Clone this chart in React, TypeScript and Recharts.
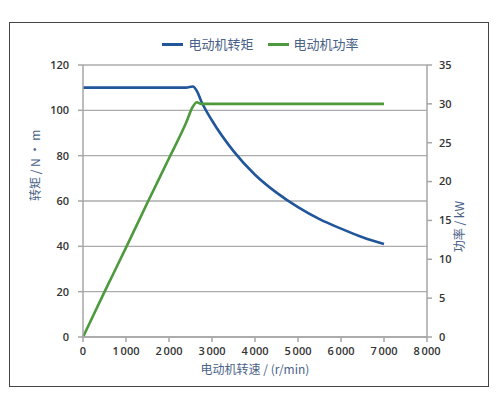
import React from 'react';
import { LineChart, Line, XAxis, YAxis, CartesianGrid } from 'recharts';

// motor speed (r/min) and the two curves
const speeds = [0, 500, 1000, 1500, 2000, 2400, 2550, 2650, 2750, 3000, 3500, 4000, 4500, 5000, 5500, 6000, 6500, 7000];
const torque = [110, 110, 110, 110, 110, 110, 110.5, 108.5, 104, 95.5, 82, 71.6, 63.7, 57.3, 52, 47.8, 44, 41];
const power = [0, 5.8, 11.5, 17.3, 23, 27.6, 29.6, 30.2, 30, 30, 30, 30, 30, 30, 30, 30, 30, 30];

const speedTicks = [0, 1000, 2000, 3000, 4000, 5000, 6000, 7000, 8000];
const torqueTicks = [0, 20, 40, 60, 80, 100, 120];
const powerTicks = [0, 5, 10, 15, 20, 25, 30, 35];

const TORQUE_NAME = '电动机转矩';
const POWER_NAME = '电动机功率';

const data = speeds.map((s, i) => ({ speed: s, torque: torque[i], power: power[i] }));

const BLUE = '#21569b';
const GREEN = '#4c9a3b';
const AXIS = '#a6a6a6';
const LABEL = '#4a6287';
const CJK = '"Noto Sans CJK SC", "Noto Sans", sans-serif';
const tickStyle = { fill: '#333', fontSize: 11, fontFamily: '"Open Sans", sans-serif', fontWeight: 600 };

const fmt = (v: number) => String(v).replace(/\B(?=(\d{3})+(?!\d))/g, '\u2009');

const LegendBox = () => (
  <div
    style={{
      position: 'absolute', left: 11, top: 35, width: 499, display: 'flex', justifyContent: 'center',
      gap: 14, fontFamily: CJK, fontSize: 13, color: LABEL, lineHeight: '18px',
    }}
  >
    {[
      { name: TORQUE_NAME, color: BLUE },
      { name: POWER_NAME, color: GREEN },
    ].map((it) => (
      <div key={it.name} style={{ display: 'flex', alignItems: 'center', gap: 5 }}>
        <span style={{ display: 'inline-block', width: 21, height: 3, background: it.color }} />
        {it.name}
      </div>
    ))}
  </div>
);

export default function App() {
  return (
    <div style={{ position: 'absolute', left: 0, top: 0, width: 499, height: 395, background: '#fff', overflow: 'hidden' }}>
      <div style={{ position: 'absolute', left: 9, top: 22, width: 480, height: 365, border: '1.5px solid #444', boxSizing: 'border-box' }} />
      <LegendBox />
      <LineChart width={499} height={395} data={data} margin={{ top: 65, right: 32, bottom: 28, left: 33 }} style={{ position: 'absolute', left: 0, top: 0 }}>
        <CartesianGrid vertical={false} stroke="#ababab" strokeWidth={1.4} yAxisId="t" />
        <XAxis
          dataKey="speed"
          type="number"
          domain={[0, 8000]}
          ticks={speedTicks}
          tickFormatter={fmt}
          height={30}
          stroke={AXIS}
          strokeWidth={1.5}
          tickSize={5}
          tickMargin={5}
          tick={tickStyle}
          label={{ value: '电动机转速 / (r/min)', position: 'insideBottom', offset: -7, fill: LABEL, fontSize: 12, fontFamily: CJK }}
        />
        <YAxis
          yAxisId="t"
          domain={[0, 120]}
          ticks={torqueTicks}
          width={50}
          stroke={AXIS}
          strokeWidth={1.5}
          tickSize={5}
          tickMargin={9}
          tick={tickStyle}
          label={{ value: '转矩 / N · m', angle: -90, position: 'insideLeft', offset: 3, fill: LABEL, fontSize: 12, fontFamily: CJK }}
        />
        <YAxis
          yAxisId="p"
          orientation="right"
          domain={[0, 35]}
          ticks={powerTicks}
          width={40}
          stroke={AXIS}
          strokeWidth={1.5}
          tickSize={5}
          tickMargin={7}
          tick={tickStyle}
          label={{ value: '功率 / kW', angle: -90, position: 'insideRight', offset: 7, fill: LABEL, fontSize: 12, fontFamily: CJK }}
        />
        <Line yAxisId="t" type="monotone" dataKey="torque" name={TORQUE_NAME} stroke={BLUE} strokeWidth={2.6} dot={false} isAnimationActive={false} />
        <Line yAxisId="p" type="monotone" dataKey="power" name={POWER_NAME} stroke={GREEN} strokeWidth={2.6} dot={false} isAnimationActive={false} />
      </LineChart>
    </div>
  );
}
